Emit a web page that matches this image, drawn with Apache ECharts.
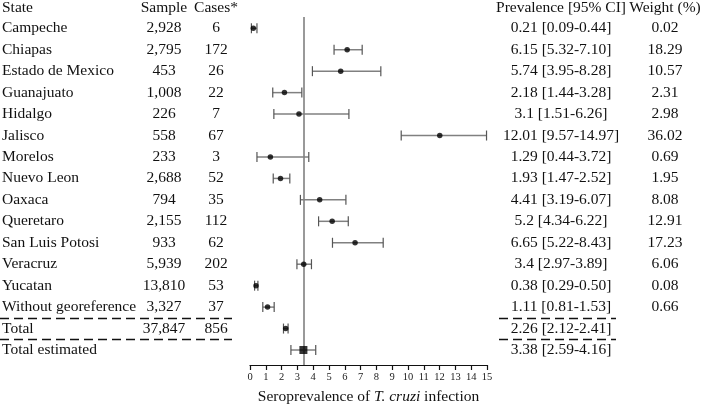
<!DOCTYPE html>
<html><head><meta charset="utf-8">
<script src="https://cdn.jsdelivr.net/npm/echarts@6/dist/echarts.min.js"></script>
<style>html,body{margin:0;padding:0;background:#fff}#c{width:704px;height:410px}</style>
</head><body><div id="c"></div>
<script>
const states = ['Campeche','Chiapas','Estado de Mexico','Guanajuato','Hidalgo','Jalisco','Morelos','Nuevo Leon','Oaxaca','Queretaro','San Luis Potosi','Veracruz','Yucatan','Without georeference','Total','Total estimated'];
const samples = ['2,928','2,795','453','1,008','226','558','233','2,688','794','2,155','933','5,939','13,810','3,327','37,847',''];
const cases = ['6','172','26','22','7','67','3','52','35','112','62','202','53','37','856',''];
const prevalence = [0.21,6.15,5.74,2.18,3.1,12.01,1.29,1.93,4.41,5.2,6.65,3.4,0.38,1.11,2.26,3.38];
const lower = [0.09,5.32,3.95,1.44,1.51,9.57,0.44,1.47,3.19,4.34,5.22,2.97,0.29,0.81,2.12,2.59];
const upper = [0.44,7.10,8.28,3.28,6.26,14.97,3.72,2.52,6.07,6.22,8.43,3.89,0.50,1.53,2.41,4.16];
const weights = ['0.02','18.29','10.57','2.31','2.98','36.02','0.69','1.95','8.08','12.91','17.23','6.06','0.08','0.66','',''];
const headers = ['State','Sample','Cases*','Prevalence [95% CI]','Weight (%)'];
const xTickValues = [0,1,2,3,4,5,6,7,8,9,10,11,12,13,14,15];

const FONT = '"Liberation Serif", "Times New Roman", serif';
const FS = 15.5;
const TXT = '#111';
const colX = {state: 2, sample: 164, cases: 216, prev: 561, weight: 665};
const sepRows = [13.5, 14.5];
const nRows = states.length;

function prevText(i){ return String(prevalence[i]) + ' [' + lower[i].toFixed(2) + '-' + upper[i].toFixed(2) + ']'; }

function txt(x, y, s, align){
  return {type:'text', style:{x:x, y:y, text:s, fill:TXT, font: FS + 'px ' + FONT, textAlign: align, textVerticalAlign:'middle'}};
}

const chart = echarts.init(document.getElementById('c'), null, {renderer:'canvas'});
const option = {
  animation: false,
  backgroundColor: '#fff',
  grid: {left: 250, width: 237, top: 17, height: 355, containLabel: false},
  xAxis: {
    type: 'value', min: 0, max: 15, interval: 1, position: 'bottom',
    axisLine: {show: true, onZero: false, lineStyle: {color: '#111', width: 1.2}},
    axisTick: {show: true, length: 5, lineStyle: {color: '#111', width: 1.2}},
    axisLabel: {show: true, margin: 7, fontSize: 10.5, fontFamily: FONT, color: '#222',
      formatter: function(v){ return xTickValues.indexOf(v) >= 0 ? String(v) : ''; }},
    splitLine: {show: false},
    name: '{a|Seroprevalence of }{b|T. cruzi}{a| infection}',
    nameLocation: 'middle', nameGap: 24,
    nameTextStyle: {rich: {
      a: {fontFamily: FONT, fontSize: FS, color: TXT},
      b: {fontFamily: FONT, fontSize: FS, color: TXT, fontStyle: 'italic'}
    }}
  },
  yAxis: {
    type: 'value', inverse: true, min: -0.5256, max: 15.699, show: false
  },
  series: [
    {
      type: 'custom', clip: false, silent: true, z: 1,
      data: states.map(function(s, i){ return [0, i]; }),
      renderItem: function(params, api){
        const i = params.dataIndex;
        const y = api.coord([0, i])[1];
        const children = [
          txt(colX.state, y, states[i], 'left'),
          txt(colX.sample, y, samples[i], 'center'),
          txt(colX.cases, y, cases[i], 'center'),
          txt(colX.prev, y, prevText(i), 'center'),
          txt(colX.weight, y, weights[i], 'center')
        ];
        if (i === 0) {
          const yh = api.coord([0, -1])[1] + 1;
          children.push(txt(colX.state, yh, headers[0], 'left'));
          children.push(txt(colX.sample, yh, headers[1], 'center'));
          children.push(txt(colX.cases, yh, headers[2], 'center'));
          children.push(txt(colX.prev, yh, headers[3], 'center'));
          children.push(txt(colX.weight, yh, headers[4], 'center'));
          sepRows.forEach(function(r){
            const ys = Math.round(api.coord([0, r])[1]) + 0.5;
            children.push({type:'line', shape:{x1:0, y1:ys, x2:232, y2:ys}, style:{stroke:'#111', lineWidth:1.6, lineDash:[9,5]}});
            children.push({type:'line', shape:{x1:499, y1:ys, x2:616, y2:ys}, style:{stroke:'#111', lineWidth:1.6, lineDash:[9,5]}});
          });
        }
        return {type:'group', children: children};
      }
    },
    {
      type: 'custom', clip: false, silent: true, z: 3,
      data: states.map(function(s, i){ return [prevalence[i], i, lower[i], upper[i]]; }),
      encode: {x: [0, 2, 3], y: 1},
      renderItem: function(params, api){
        const y = api.value(1);
        const lo = api.coord([api.value(2), y]);
        const hi = api.coord([api.value(3), y]);
        const yy = lo[1];
        const h = 5;
        return {type:'group', children: [
          {type:'line', shape:{x1:lo[0], y1:yy, x2:hi[0], y2:yy}, style:{stroke:'#808080', lineWidth:1.5}},
          {type:'line', shape:{x1:lo[0], y1:yy-h, x2:lo[0], y2:yy+h}, style:{stroke:'#555', lineWidth:1.2}},
          {type:'line', shape:{x1:hi[0], y1:yy-h, x2:hi[0], y2:yy+h}, style:{stroke:'#555', lineWidth:1.2}}
        ]};
      }
    },
    {
      type: 'scatter', z: 5, silent: true,
      data: prevalence.slice(0, nRows - 1).map(function(p, i){ return [p, i]; }),
      symbol: 'circle', symbolSize: 5.5,
      itemStyle: {color: '#000'},
      markLine: {
        silent: true, symbol: 'none', z: 2,
        label: {show: false},
        lineStyle: {color: '#777', width: 1.5, type: 'solid'},
        data: [{xAxis: prevalence[nRows - 1]}]
      }
    },
    {
      type: 'scatter', z: 5, silent: true,
      data: [[prevalence[nRows - 1], nRows - 1]],
      symbol: 'rect', symbolSize: 8,
      itemStyle: {color: '#000'}
    }
  ]
};
chart.setOption(option);
</script>
</body></html>
